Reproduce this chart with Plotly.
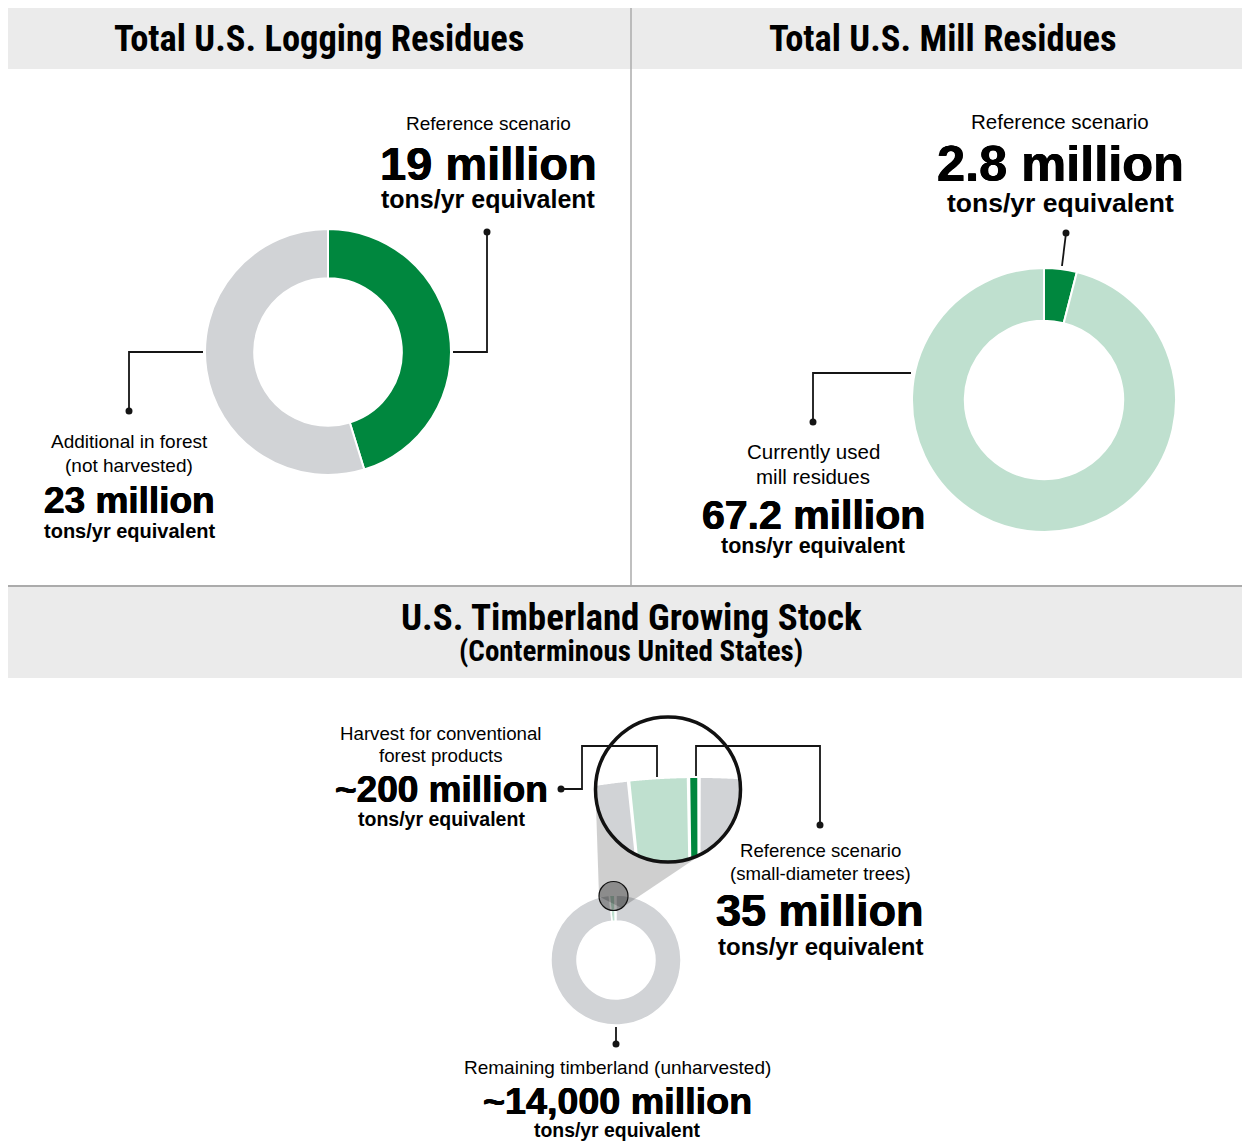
import numpy as np
import plotly.graph_objects as go

# ---------------- data ----------------
logging_labels = ["Reference scenario", "Additional in forest (not harvested)"]
logging_values = [19, 23]

mill_labels = ["Reference scenario", "Currently used mill residues"]
mill_values = [2.8, 67.2]

stock_labels = ["Harvest for conventional forest products",
                "Reference scenario (small-diameter trees)",
                "Remaining timberland (unharvested)"]
stock_values = [200, 35, 14000]

panel_titles = ["Total U.S. Logging Residues", "Total U.S. Mill Residues",
                "U.S. Timberland Growing Stock"]
panel_subtitle = "(Conterminous United States)"
unit_text = "tons/yr equivalent"

# ---------------- style ----------------
W, H = 1250, 1141
OFF = 8  # page body margin: axis coordinates below are screen pixels
GREEN = "#00873E"
LIGHT = "#BFE0CF"
GRAY = "#D1D3D6"
BAND = "#EBEBEB"
RULE = "#ABABAB"
INK = "#151515"
REG = "Liberation Sans, Arial, sans-serif"
TITLE = "Liberation Sans Narrow, Roboto Condensed, Lato, sans-serif"
HEAVY_SHADOW = "0.45px 0 0 black, -0.45px 0 0 black"


def dom(cx, cy, r):
    cx -= OFF
    cy -= OFF
    return dict(x=[(cx - r) / W, (cx + r) / W], y=[1 - (cy + r) / H, 1 - (cy - r) / H])


def num_label(v, approx=False):
    s = f"{v:,.0f}" if float(v).is_integer() else f"{v:g}"
    return ("~" if approx else "") + s + " million"


fig = go.Figure()
fig.add_trace(go.Scatter(x=[OFF, W + OFF], y=[OFF, H + OFF], mode="markers", marker=dict(opacity=0),
                         hoverinfo="skip", showlegend=False))

pie_common = dict(hole=0.6, sort=False, direction="clockwise", textinfo="none",
                  hoverinfo="none", showlegend=False)

fig.add_trace(go.Pie(labels=logging_labels, values=logging_values, rotation=0,
                     marker=dict(colors=[GREEN, GRAY], line=dict(color="white", width=2)),
                     domain=dom(328, 352, 123), **pie_common))
fig.add_trace(go.Pie(labels=mill_labels, values=mill_values, rotation=0,
                     marker=dict(colors=[GREEN, LIGHT], line=dict(color="white", width=2)),
                     domain=dom(1044, 400, 132), **pie_common))

stock_total = sum(stock_values)
stock_rot = -360.0 * (stock_values[0] + stock_values[1]) / stock_total
fig.add_trace(go.Pie(labels=stock_labels, values=stock_values, rotation=stock_rot,
                     marker=dict(colors=[LIGHT, GREEN, GRAY], line=dict(color="white", width=1.5)),
                     domain=dom(616, 960, 65), **pie_common))

shapes = []
# header bands and rules
shapes.append(dict(type="rect", x0=OFF, x1=W + OFF, y0=6, y1=69, fillcolor=BAND, line_width=0, layer="below"))
shapes.append(dict(type="rect", x0=OFF, x1=W + OFF, y0=587, y1=678, fillcolor=BAND, line_width=0, layer="below"))
shapes.append(dict(type="line", x0=631, x1=631, y0=6, y1=585, line=dict(color=RULE, width=1.5), layer="below"))
shapes.append(dict(type="line", x0=OFF, x1=W + OFF, y0=586, y1=586, line=dict(color=RULE, width=2), layer="below"))

# ---------------- magnifier ----------------
SC = (613.5, 896.0); SR = 14.5       # small lens on donut
MC = (668.0, 789.5); MR = 72.5       # magnifier circle
c1 = np.array(SC); c2 = np.array(MC)
d = np.linalg.norm(c2 - c1); u = (c2 - c1) / d
perp = np.array([-u[1], u[0]])
cc = (SR - MR) / d
ss = np.sqrt(1 - cc ** 2)
na = cc * u + ss * perp
nb = cc * u - ss * perp
T1a, T2a = c1 + SR * na, c2 + MR * na
T1b, T2b = c1 + SR * nb, c2 + MR * nb
cone = f"M {T1a[0]:.2f},{T1a[1]:.2f} L {T2a[0]:.2f},{T2a[1]:.2f} L {T2b[0]:.2f},{T2b[1]:.2f} L {T1b[0]:.2f},{T1b[1]:.2f} Z"
shapes.append(dict(type="path", path=cone, fillcolor="rgba(0,0,0,0.19)", line_width=0, layer="above"))
shapes.append(dict(type="circle", x0=SC[0] - SR, x1=SC[0] + SR, y0=SC[1] - SR, y1=SC[1] + SR,
                   fillcolor="rgba(0,0,0,0.32)", line=dict(color="#111", width=1.2), layer="above"))
shapes.append(dict(type="circle", x0=MC[0] - MR, x1=MC[0] + MR, y0=MC[1] - MR, y1=MC[1] + MR,
                   fillcolor="white", line_width=0, layer="above"))

BIG_R = 680.0
tip_x, top_y = 699.0, 778.0
Mx, My = tip_x, top_y + BIG_R
gap = 3.5


def clip(subject, clipper):
    area = 0.0
    for i in range(len(clipper)):
        ax, ay = clipper[i - 1]; bx, by = clipper[i]
        area += ax * by - bx * ay
    sgn = 1 if area > 0 else -1

    def inside(p, a, b):
        return ((b[0] - a[0]) * (p[1] - a[1]) - (b[1] - a[1]) * (p[0] - a[0])) * sgn >= 0

    def inter(s, e, a, b):
        x1, y1 = s; x2, y2 = e; x3, y3 = a; x4, y4 = b
        den = (x1 - x2) * (y3 - y4) - (y1 - y2) * (x3 - x4)
        t = ((x1 - x3) * (y3 - y4) - (y1 - y3) * (x3 - x4)) / den
        return (x1 + t * (x2 - x1), y1 + t * (y2 - y1))

    out = subject
    for i in range(len(clipper)):
        a, b = clipper[i - 1], clipper[i]
        inp, out = out, []
        if not inp:
            break
        s = inp[-1]
        for e in inp:
            if inside(e, a, b):
                if not inside(s, a, b):
                    out.append(inter(s, e, a, b))
                out.append(e)
            elif inside(s, a, b):
                out.append(inter(s, e, a, b))
            s = e
    return out


circ = [(MC[0] + (MR - 1) * np.cos(t), MC[1] + (MR - 1) * np.sin(t))
        for t in np.linspace(0, 2 * np.pi, 180, endpoint=False)]
win = 0.25
start = np.deg2rad(stock_rot)
cum = 0.0
for v, col in zip(stock_values, [LIGHT, GREEN, GRAY]):
    a0 = start + 2 * np.pi * cum / stock_total
    a1 = a0 + 2 * np.pi * v / stock_total
    cum += v
    for k in (-1, 0, 1):
        b0 = max(a0 + k * 2 * np.pi + gap / 2 / BIG_R, -win)
        b1 = min(a1 + k * 2 * np.pi - gap / 2 / BIG_R, win)
        if b1 <= b0:
            continue
        ts = np.linspace(b0, b1, 80)
        outer = [(Mx + BIG_R * np.sin(t), My - BIG_R * np.cos(t)) for t in ts]
        rin = BIG_R * 0.6
        inner = [(Mx + rin * np.sin(t), My - rin * np.cos(t)) for t in ts[::-1]]
        poly = clip(outer + inner, circ)
        if len(poly) < 3:
            continue
        path = "M " + " L ".join(f"{x:.2f},{y:.2f}" for x, y in poly) + " Z"
        shapes.append(dict(type="path", path=path, fillcolor=col, line_width=0, layer="above"))

shapes.append(dict(type="circle", x0=MC[0] - MR, x1=MC[0] + MR, y0=MC[1] - MR, y1=MC[1] + MR,
                   fillcolor="rgba(0,0,0,0)", line=dict(color="#111", width=3.5), layer="above"))

# ---------------- leader lines ----------------
leaders = [
    [(487, 232), (487, 352), (453, 352)],
    [(203, 352), (129, 352), (129, 411)],
    [(1066, 233), (1062, 266)],
    [(911, 373), (813, 373), (813, 422)],
    [(561, 789), (582, 789), (582, 746), (657, 746), (657, 777)],
    [(696, 776), (696, 746), (820, 746), (820, 825)],
    [(616, 1027), (616, 1044)],
]
for pts in leaders:
    path = "M " + " L ".join(f"{x},{y}" for x, y in pts)
    shapes.append(dict(type="path", path=path, line=dict(color=INK, width=1.8), layer="above"))
dots = [(487, 232), (129, 411), (1066, 233), (813, 422), (561, 789), (820, 825), (616, 1044)]
for x, y in dots:
    shapes.append(dict(type="circle", x0=x - 3.5, x1=x + 3.5, y0=y - 3.5, y1=y + 3.5,
                       fillcolor=INK, line_width=0, layer="above"))

# ---------------- text ----------------
ann = []


def txt(s, x, y, size, weight="normal", family=REG, shadow=None):
    f = dict(family=family, size=size, color="black", weight=weight)
    if shadow:
        f["shadow"] = shadow
    ann.append(dict(text=s, x=x, y=y, xref="x", yref="y", showarrow=False,
                    xanchor="center", yanchor="middle", font=f))


def big(s, x, y, size):
    txt(s, x, y, size, "bold", REG, HEAVY_SHADOW)


txt(panel_titles[0], 319, 38, 36.5, "bold", TITLE)
txt(panel_titles[1], 943, 38, 36.5, "bold", TITLE)
txt(panel_titles[2], 631, 617, 37, "bold", TITLE)
txt(panel_subtitle, 631, 651, 29, "bold", TITLE)

# logging residues
txt(logging_labels[0], 488, 123, 19)
big(num_label(logging_values[0]), 488, 163, 47)
txt(unit_text, 488, 199, 25, "bold")
txt("Additional in forest", 129, 441, 19)
txt("(not harvested)", 129, 465, 19)
big(num_label(logging_values[1]), 129, 500, 37)
txt(unit_text, 129, 531, 20, "bold")

# mill residues
txt(mill_labels[0], 1060, 121, 20.5)
big(num_label(mill_values[0]), 1060, 163, 50.5)
txt(unit_text, 1060, 203, 26.5, "bold")
txt("Currently used", 813, 451, 20.5)
txt("mill residues", 813, 476, 20.5)
big(num_label(mill_values[1]), 813, 515, 41)
txt(unit_text, 813, 546, 21.5, "bold")

# growing stock
txt("Harvest for conventional", 441, 733, 18.7)
txt("forest products", 441, 755, 18.7)
big(num_label(stock_values[0], True), 441, 789, 37)
txt(unit_text, 441, 819, 19.5, "bold")
txt("Reference scenario", 820, 850, 18.6)
txt("(small-diameter trees)", 820, 873, 18.6)
big(num_label(stock_values[1]), 820, 910, 45)
txt(unit_text, 820, 946, 24, "bold")
txt(stock_labels[2], 617, 1067, 19)
big(num_label(stock_values[2], True), 617, 1101, 37.7)
txt(unit_text, 617, 1130, 19.4, "bold")

fig.update_layout(
    width=W, height=H, margin=dict(l=0, r=0, t=0, b=0),
    paper_bgcolor="white", plot_bgcolor="white",
    xaxis=dict(range=[OFF, W + OFF], visible=False, fixedrange=True),
    yaxis=dict(range=[H + OFF, OFF], visible=False, fixedrange=True),
    shapes=shapes, annotations=ann, showlegend=False,
)

fig.write_html("out.html")
